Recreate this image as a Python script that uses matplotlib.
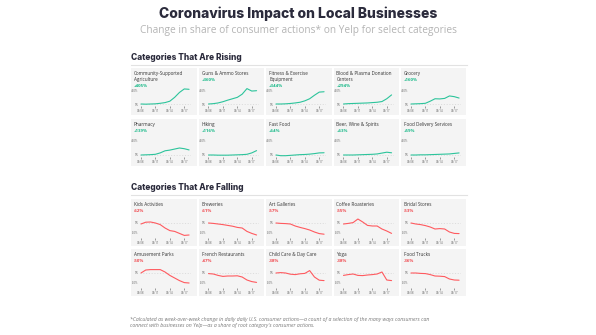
import matplotlib
matplotlib.use("Agg")
import matplotlib.pyplot as plt
from matplotlib.patches import Rectangle

W, H = 596, 335

days = ["03/08", "03/09", "03/10", "03/11", "03/12", "03/13", "03/14",
        "03/15", "03/16", "03/17", "03/18"]
tick_days = ["03/08", "03/11", "03/14", "03/17"]

rising_labels = ["Community-Supported\nAgriculture", "Guns & Ammo Stores",
                 "Fitness & Exercise\nEquipment", "Blood & Plasma Donation\nCenters",
                 "Grocery", "Pharmacy", "Hiking", "Fast Food",
                 "Beer, Wine & Spirits", "Food Delivery Services"]
rising_changes = ["+405%", "+360%", "+344%", "+294%", "+160%",
                  "+139%", "+116%", "+64%", "+63%", "+59%"]
rising_series = [
    [0, -5, 0, 5, 20, 40, 80, 190, 330, 430, 420],
    [0, 10, 30, 65, 110, 150, 190, 280, 440, 370, 380],
    [0, 0, 5, 15, 30, 50, 90, 150, 250, 340, 350],
    [0, 10, 15, 20, 25, 30, 40, 50, 70, 150, 260],
    [0, 5, 10, 20, 80, 150, 145, 160, 230, 210, 170],
    [0, 5, 10, 20, 60, 120, 140, 170, 200, 180, 145],
    [0, 0, -5, -5, -5, 0, 5, 10, 20, 60, 125],
    [0, -20, -20, -10, 0, 10, 15, 25, 40, 60, 64],
    [0, 0, 0, 5, 10, 15, 20, 30, 55, 80, 63],
    [0, 0, 5, 5, 10, 15, 20, 25, 30, 45, 59],
]

falling_labels = ["Kids Activities", "Breweries", "Art Galleries",
                  "Coffee Roasteries", "Bridal Stores", "Amusement Parks",
                  "French Restaurants", "Child Care & Day Care", "Yoga",
                  "Food Trucks"]
falling_changes = ["-62%", "-61%", "-57%", "-55%", "-53%",
                   "-50%", "-47%", "-38%", "-38%", "-36%"]
falling_series = [
    [-5, 4, 5, 0, -8, -25, -38, -42, -52, -62, -60],
    [0, -2, -5, -8, -12, -16, -22, -25, -42, -52, -60],
    [0, -2, -3, -5, -15, -22, -28, -35, -45, -53, -56],
    [-5, -2, 2, 20, 5, -12, -15, -15, -30, -40, -52],
    [0, -5, -8, -13, -20, -30, -28, -30, -45, -52, -53],
    [0, 15, 17, 17, 17, 5, -12, -25, -38, -48, -50],
    [-3, -5, -12, -17, -15, -15, -14, -20, -35, -43, -47],
    [0, 2, 0, -6, -8, -4, -2, 12, -20, -36, -38],
    [-12, -8, -5, -12, -13, -10, -8, -5, 5, -35, -38],
    [0, 0, -2, -3, -8, -15, -16, -18, -30, -35, -36],
]

GREEN = "#2cc49b"
GREEN_TXT = "#14b886"
RED = "#ff5a5f"
RED_TXT = "#f0484e"
PANEL_BG = "#f4f4f4"
DARK = "#2b2b3c"

BODY = ["Open Sans", "DejaVu Sans"]
HEAD = ["Inter", "DejaVu Sans"]

fig = plt.figure(figsize=(W / 100, H / 100), dpi=100)
fig.patch.set_facecolor("white")


def fx(px):
    return px / W


def fy(py):
    return 1 - py / H


fig.text(fx(298), fy(14), "Coronavirus Impact on Local Businesses", ha="center",
         va="center", fontsize=10.0, fontweight="heavy", color=DARK, family=HEAD)
fig.text(fx(298), fy(30), "Change in share of consumer actions* on Yelp for select categories",
         ha="center", va="center", fontsize=7.3, color="#b4b4b4", family=BODY)

col_left = [131, 198.5, 266, 333.5, 401]
panel_w, panel_h = 65.5, 47


def section(title, y):
    fig.text(fx(131), fy(y), title, ha="left", va="center", fontsize=6.0,
             fontweight="heavy", color=DARK, family=HEAD)
    fig.add_artist(plt.Line2D([fx(131), fx(467)], [fy(y + 6.5), fy(y + 6.5)],
                              color="#e2e2e2", lw=0.8))


def panel(left, top, label, change, vals, rising):
    bottom = top + panel_h
    fig.add_artist(Rectangle((fx(left), fy(bottom)), fx(panel_w), panel_h / H,
                             facecolor=PANEL_BG, edgecolor="none", zorder=-5))
    fig.text(fx(left + 3), fy(top + 3), label, ha="left", va="top",
             fontsize=3.3, color="#333333", family=BODY, linespacing=1.25)
    nlines = label.count("\n") + 1
    fig.text(fx(left + 3), fy(top + 4 + 5.8 * nlines), change, ha="left", va="top",
             fontsize=3.2, fontweight="bold", color=GREEN_TXT if rising else RED_TXT,
             family=BODY)

    if rising:
        ymin, ymax = -50, 500
        scale = 14 / 400
        zero_px = bottom - 11
        ticks, tlabels = [0, 400], ["0%", "400%"]
        color = GREEN
    else:
        ymin, ymax = -75, 25
        scale = 10 / 50
        zero_px = bottom - 23
        ticks, tlabels = [-50, 0], ["-50%", "0%"]
        color = RED
    ax_bottom_px = zero_px + (0 - ymin) * scale
    ax_h = (ymax - ymin) * scale
    ax_left = left + 9
    ax_w = 51
    ax = fig.add_axes([fx(ax_left), fy(ax_bottom_px), fx(ax_w), ax_h / H])
    ax.set_zorder(5)
    ax.set_facecolor("none")
    x = list(range(len(days)))
    ax.plot(x, vals, color=color, lw=0.8, solid_capstyle="round")
    ax.axhline(0, color="#cccccc", lw=0.4, ls=(0, (2, 3)), zorder=0)
    ax.set_xlim(-0.2, len(days) - 0.6)
    ax.set_ylim(ymin, ymax)
    ax.set_yticks(ticks)
    ax.set_yticklabels(tlabels)
    ax.set_xticks([days.index(d) for d in tick_days])
    ax.set_xticklabels(tick_days)
    for s in ax.spines.values():
        s.set_visible(False)
    ax.tick_params(axis="y", length=0, pad=1, labelsize=2.1, labelcolor="#666666")
    ax.tick_params(axis="x", length=1.5, width=0.4, color="#555555", pad=0.8,
                   labelsize=2.1, labelcolor="#666666")
    for t in ax.get_xticklabels() + ax.get_yticklabels():
        t.set_family(BODY)


section("Categories That Are Rising", 58)
for i in range(len(rising_labels)):
    top = 68 if i < 5 else 119
    panel(col_left[i % 5], top, rising_labels[i], rising_changes[i],
          rising_series[i], True)

section("Categories That Are Falling", 188)
for i in range(len(falling_labels)):
    top = 199 if i < 5 else 249
    panel(col_left[i % 5], top, falling_labels[i], falling_changes[i],
          falling_series[i], False)

fig.text(fx(130), fy(316.5),
         "*Calculated as week-over-week change in daily daily U.S. consumer actions\u2014a count of a "
         "selection of the many ways consumers can\nconnect with businesses on Yelp\u2014as a share "
         "of root category's consumer actions.",
         ha="left", va="top", fontsize=3.7, style="italic", color="#777777",
         family=BODY, linespacing=1.3)

fig.savefig("out.png", dpi=100, facecolor="white")
